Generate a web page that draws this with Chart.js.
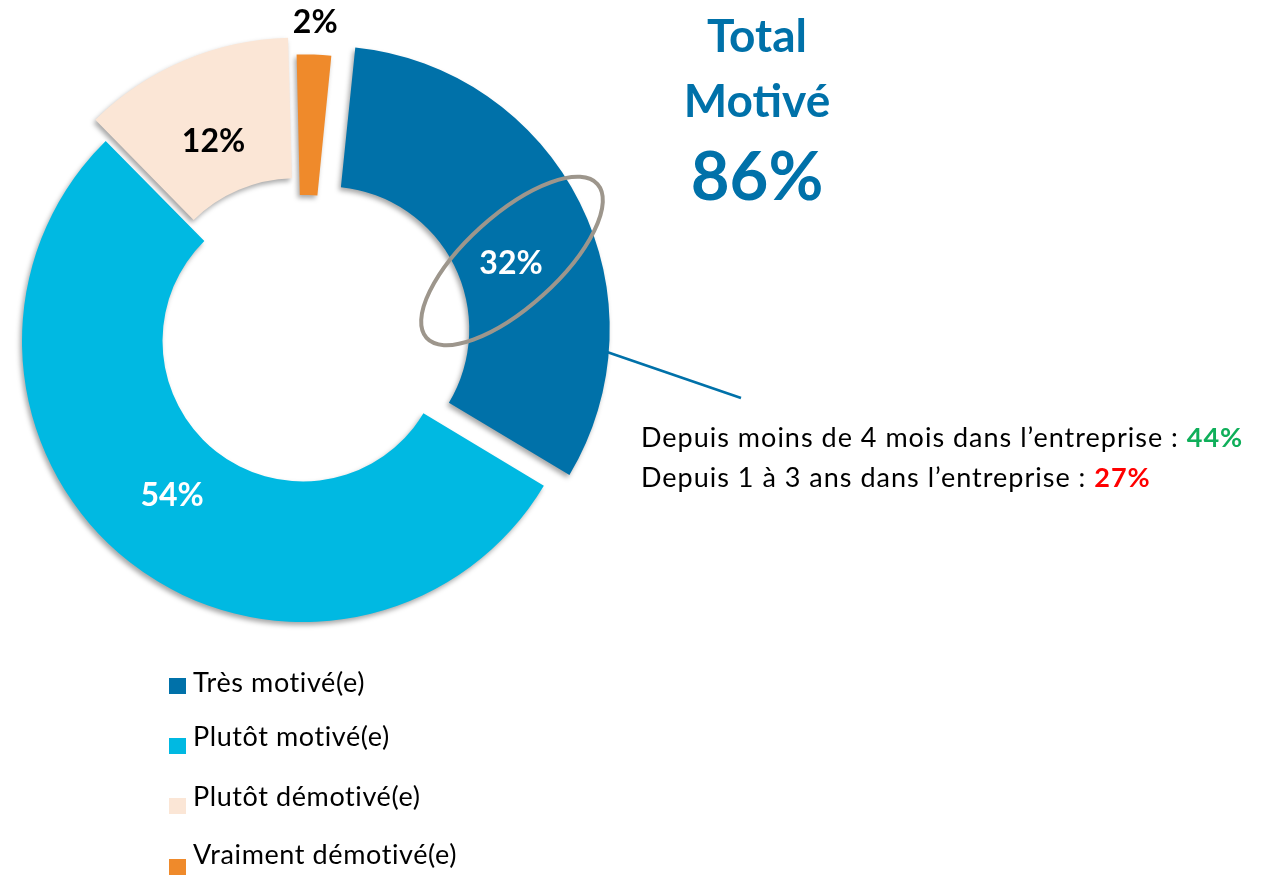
<!DOCTYPE html>
<html lang="fr">
<head>
    <meta charset="UTF-8">
    <title>Motivation</title>
    <script src="https://cdn.jsdelivr.net/npm/chart.js@4.4.1/dist/chart.umd.min.js"></script>
    <style>
        html, body { margin: 0; padding: 0; background: #fff; }
        #wrap { position: relative; width: 1261px; height: 875px; }
    </style>
</head>
<body>
    <div id="wrap"><canvas id="chart"></canvas></div>

    <script>
        // slices
        const labels = ['Très motivé(e)', 'Plutôt motivé(e)', 'Plutôt démotivé(e)', 'Vraiment démotivé(e)'];
        const values = [32, 54, 12, 2];
        const colors = ['#0071A9', '#00B9E2', '#FBE6D6', '#EF8A2B'];

        // side note on the "Très motivé" slice
        const noteLabels = ['Depuis moins de 4 mois dans l\u2019entreprise : ', 'Depuis 1 à 3 ans dans l\u2019entreprise : '];
        const noteValues = [44, 27];
        const noteColors = ['#0FAF5A', '#FF0000'];

        const FONT = 'Lato, "Open Sans", sans-serif';
        const totalMotive = values[0] + values[1]; // 86

        // how far each slice is pulled out, in px (chart.js v4 moves an arc by offset/4)
        const pull = [26, 0, 18, 3];

        // soft drop shadow under the slices
        const shadow = {
            id: 'shadow',
            beforeDatasetsDraw(chart) {
                const c = chart.ctx;
                c.save();
                c.shadowColor = 'rgba(0,0,0,0.35)';
                c.shadowBlur = 5;
                c.shadowOffsetX = -2;
                c.shadowOffsetY = 3;
            },
            afterDatasetsDraw(chart) { chart.ctx.restore(); }
        };

        // percentage labels on/next to each slice
        const labelPlace = [
            { turn: 6.9, dr: -17, color: '#fff' },
            { turn: 2, dr: -8, color: '#fff' },
            { turn: -1.3, dr: -16, color: '#000' },
            { turn: 0, outside: 32, color: '#000' }
        ];
        const sliceLabels = {
            id: 'sliceLabels',
            afterDraw(chart) {
                const c = chart.ctx;
                const meta = chart.getDatasetMeta(0);
                c.save();
                c.font = 'bold 32px ' + FONT;
                c.textAlign = 'center';
                c.textBaseline = 'middle';
                meta.data.forEach((arc, i) => {
                    const p = arc.getProps(['x', 'y', 'startAngle', 'endAngle', 'innerRadius', 'outerRadius', 'circumference'], true);
                    const t = pull[i];
                    const lp = labelPlace[i];
                    const half = (p.startAngle + p.endAngle) / 2;
                    // same radius growth chart.js applies to pulled arcs
                    const grow = t * (1 - Math.sin(Math.min(Math.PI, p.circumference)));
                    const cx = p.x + Math.cos(half) * t;
                    const cy = p.y + Math.sin(half) * t;
                    const a = half + lp.turn * Math.PI / 180;
                    const r = lp.outside ? p.outerRadius + grow + lp.outside
                                         : (p.innerRadius + p.outerRadius) / 2 + grow + lp.dr;
                    c.fillStyle = lp.color;
                    c.fillText(values[i] + '%', cx + Math.cos(a) * r, cy + Math.sin(a) * r);
                });
                c.restore();
            }
        };

        // title, ellipse, callout, note and legend
        const extras = {
            id: 'extras',
            afterDraw(chart) {
                const c = chart.ctx;
                c.save();

                // grey ellipse round the 32% label
                c.strokeStyle = '#9D968C';
                c.lineWidth = 4;
                c.beginPath();
                c.ellipse(512, 261, 115, 46, -42 * Math.PI / 180, 0, Math.PI * 2);
                c.stroke();

                // callout line
                c.strokeStyle = colors[0];
                c.lineWidth = 2.6;
                c.beginPath();
                c.moveTo(607, 352);
                c.lineTo(741, 398);
                c.stroke();

                // Total Motivé
                c.fillStyle = colors[0];
                c.textAlign = 'center';
                c.textBaseline = 'alphabetic';
                c.font = 'bold 46px ' + FONT;
                c.fillText('Total', 757, 52);
                c.fillText('Motivé', 757, 117);
                c.font = 'bold 67px ' + FONT;
                c.fillText(totalMotive + '%', 757, 200);

                // note lines
                c.textAlign = 'left';
                c.letterSpacing = '1px';
                noteLabels.forEach((t, i) => {
                    const y = 447 + i * 40;
                    c.font = '27px ' + FONT;
                    c.fillStyle = '#000';
                    c.fillText(t, 641, y);
                    const w = c.measureText(t).width;
                    c.font = 'bold 27px ' + FONT;
                    c.fillStyle = noteColors[i];
                    c.fillText(noteValues[i] + '%', 641 + w, y);
                });

                // legend
                c.letterSpacing = '0.6px';
                const boxTop = [678, 738, 798, 859];
                const textBase = [692, 746, 806, 864];
                c.font = '27px ' + FONT;
                labels.forEach((t, i) => {
                    c.fillStyle = colors[i];
                    c.fillRect(169, boxTop[i], 17, 16);
                    c.fillStyle = '#000';
                    c.fillText(t, 193, textBase[i]);
                });

                c.restore();
            }
        };

        new Chart(document.getElementById('chart'), {
            type: 'doughnut',
            data: {
                labels: labels,
                datasets: [{
                    data: values,
                    backgroundColor: colors,
                    borderWidth: 0,
                    offset: pull.map(v => v * 4),
                    hoverOffset: 0
                }]
            },
            options: {
                responsive: true,
                maintainAspectRatio: false,
                animation: false,
                events: [],
                rotation: 5.8,
                radius: 281,
                cutout: '50%',
                layout: { padding: { left: 0, top: 0, right: 655, bottom: 193 } },
                plugins: {
                    legend: { display: false },
                    tooltip: { enabled: false }
                }
            },
            plugins: [shadow, sliceLabels, extras]
        });
    </script>
</body>
</html>
